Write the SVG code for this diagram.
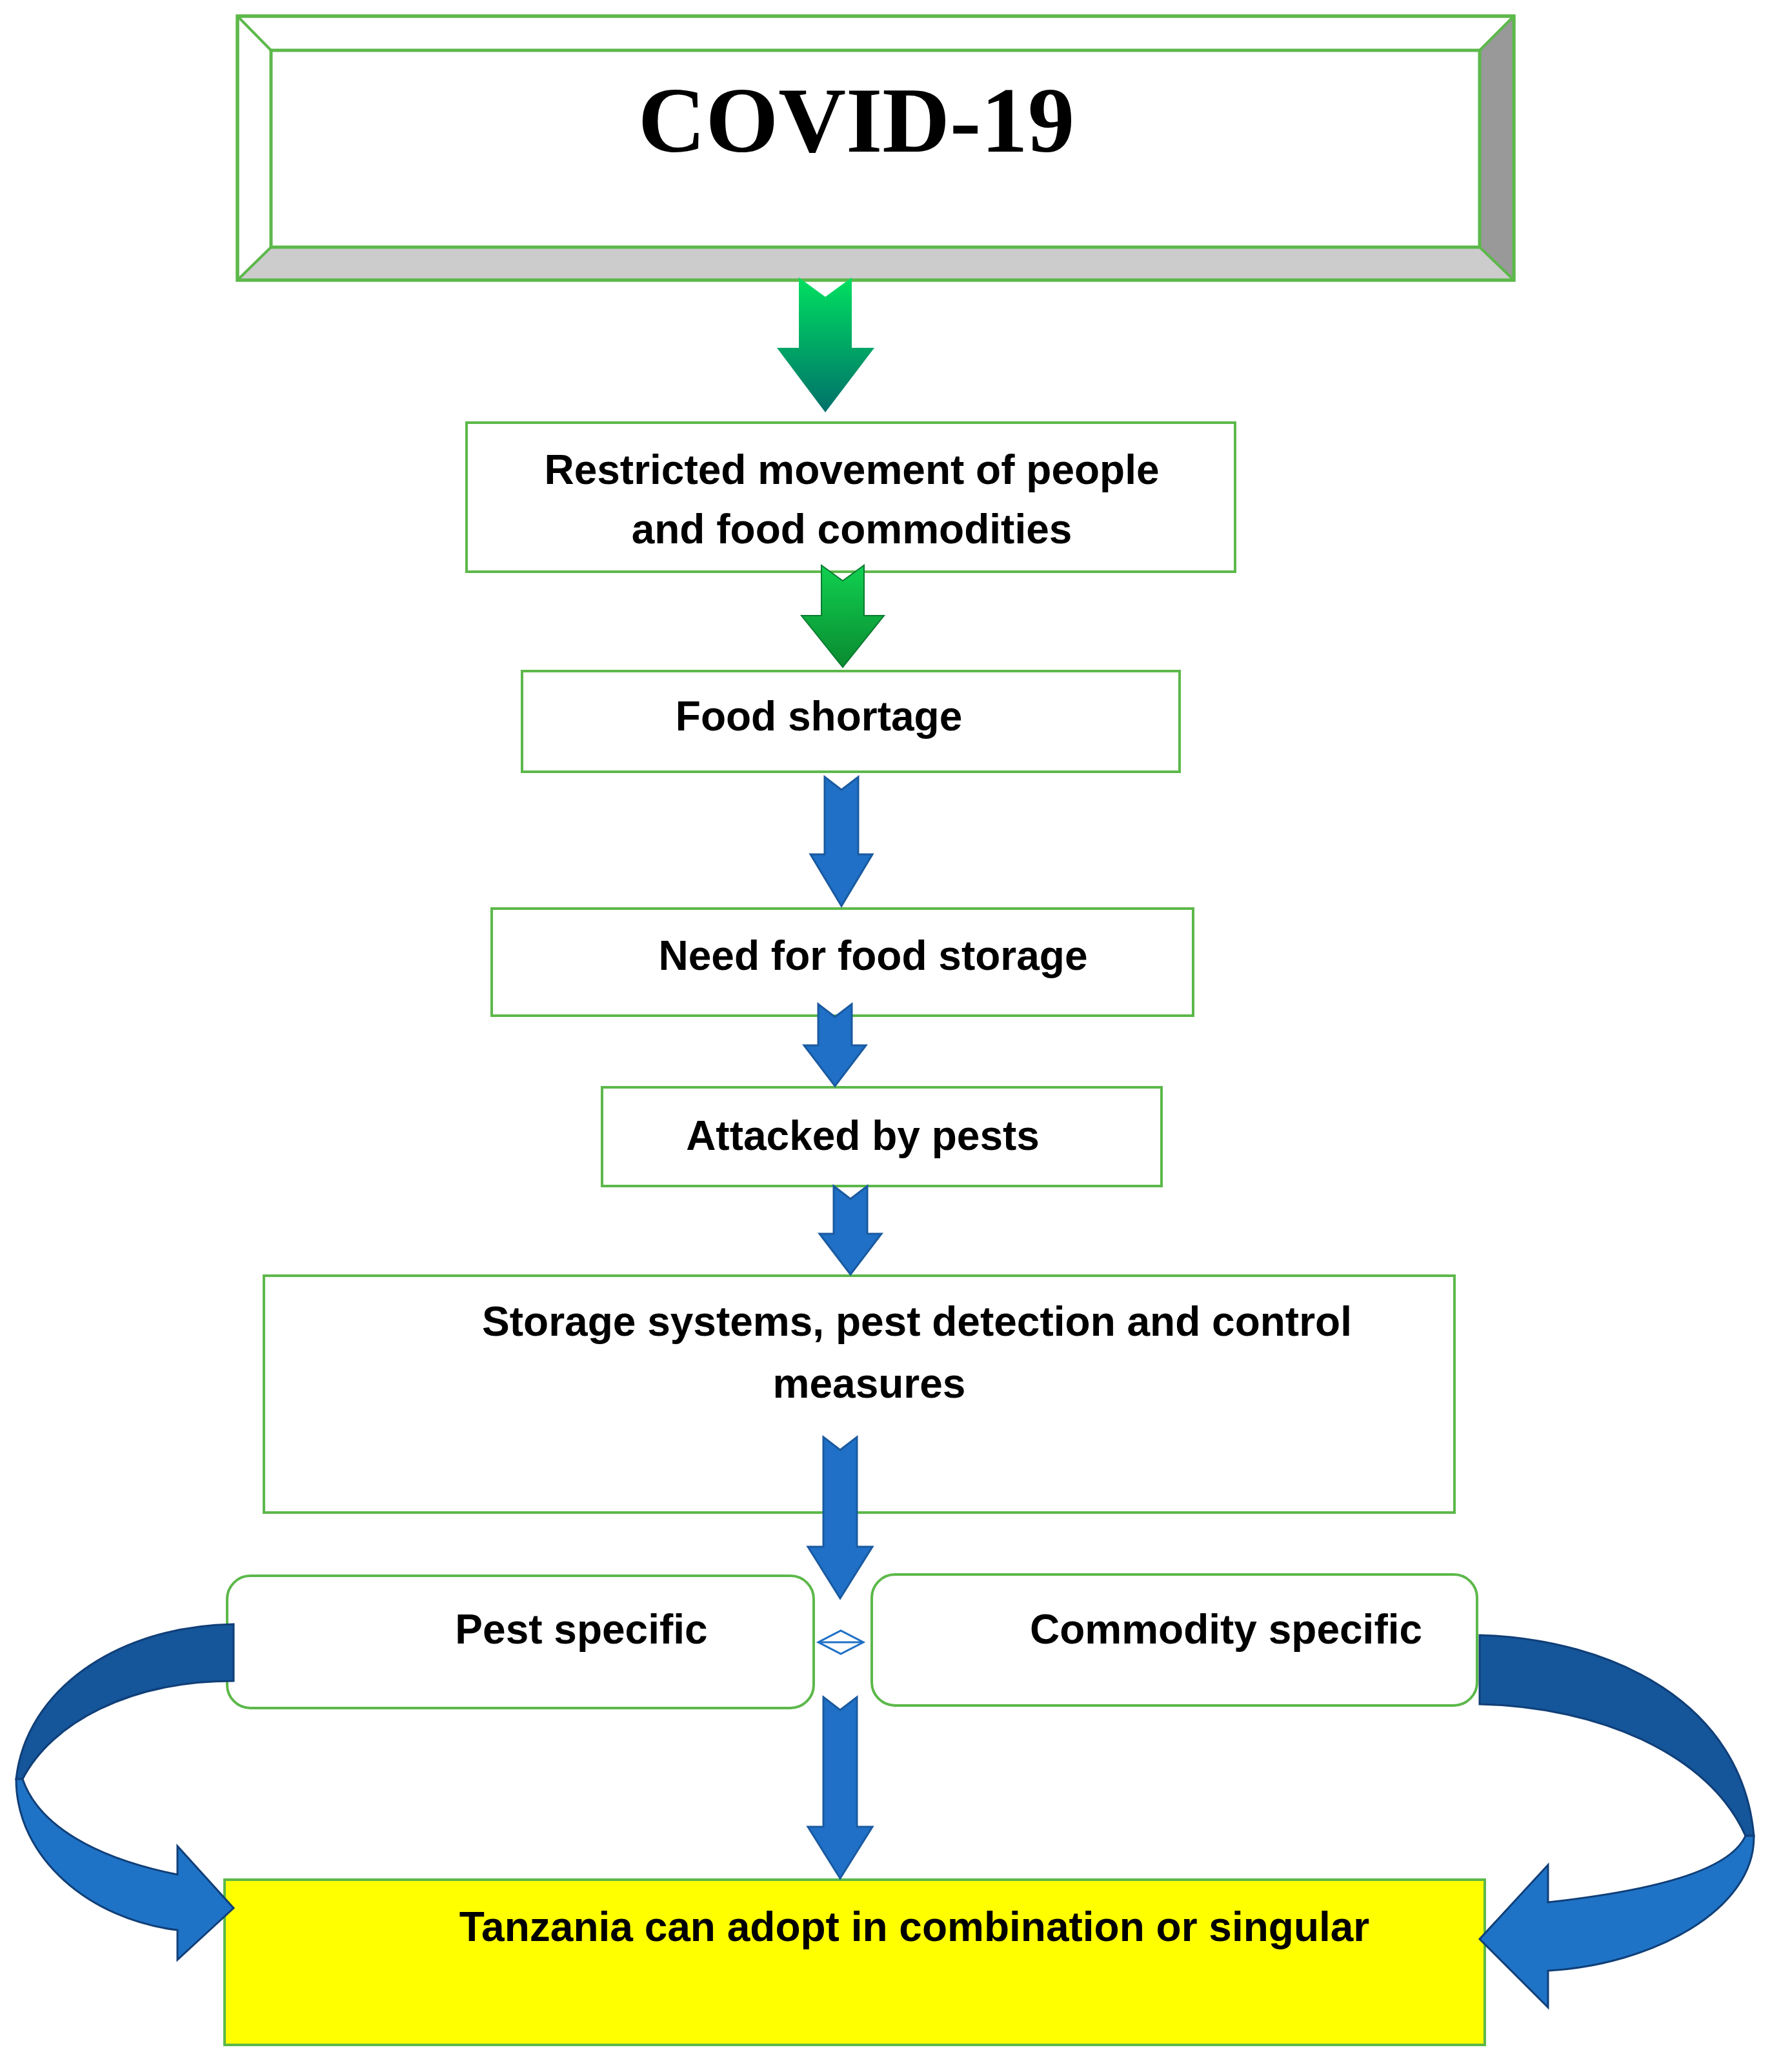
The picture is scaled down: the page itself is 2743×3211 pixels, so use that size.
<svg xmlns="http://www.w3.org/2000/svg" width="2743" height="3211" viewBox="0 0 2743 3211">
<defs>
<linearGradient id="g" x1="0" y1="0" x2="0" y2="1"><stop offset="0" stop-color="#00e060"/><stop offset="1" stop-color="#00706a"/></linearGradient>
<linearGradient id="g2" x1="0" y1="0" x2="0" y2="1"><stop offset="0" stop-color="#10d050"/><stop offset="1" stop-color="#0a8a30"/></linearGradient>
<style>
.box{fill:#fff;stroke:#5cb84a;stroke-width:4}
.t{font-family:"Liberation Sans",Arial,sans-serif;font-weight:bold;font-size:64px;fill:#000;text-anchor:middle}
.ba{fill:#1f70c6;stroke:#1a5aa0;stroke-width:3}
</style>
</defs>
<g id="covid">
<rect x="368" y="25" width="1978" height="409" fill="#fff" stroke="#5cb84a" stroke-width="5"/>
<polygon points="2293,78 2346,25 2346,434 2293,383" fill="#999"/>
<polygon points="420,383 2293,383 2346,434 368,434" fill="#ccc"/>
<rect x="368" y="25" width="1978" height="409" fill="none" stroke="#5cb84a" stroke-width="5"/>
<rect x="420" y="78" width="1873" height="305" fill="#fff" stroke="#5cb84a" stroke-width="5"/>
<line x1="368" y1="25" x2="420" y2="78" stroke="#5cb84a" stroke-width="4"/>
<line x1="2346" y1="25" x2="2293" y2="78" stroke="#5cb84a" stroke-width="4"/>
<line x1="368" y1="434" x2="420" y2="383" stroke="#5cb84a" stroke-width="4"/>
<line x1="2346" y1="434" x2="2293" y2="383" stroke="#5cb84a" stroke-width="4"/>
<text x="1327" y="235" font-family="Liberation Serif,serif" font-weight="bold" font-size="145" text-anchor="middle">COVID-19</text>
</g>
<g id="restricted"><rect class="box" x="723" y="655" width="1191" height="231"/>
<text class="t" x="1320" y="750">Restricted movement of people</text>
<text class="t" x="1320" y="842">and food commodities</text></g>
<g id="shortage"><rect class="box" x="809" y="1040" width="1019" height="156"/><text class="t" x="1269" y="1132">Food shortage</text></g>
<g id="need"><rect class="box" x="762" y="1408" width="1087" height="166"/><text class="t" x="1353" y="1503">Need for food storage</text></g>
<g id="pests"><rect class="box" x="933" y="1685" width="867" height="153"/><text class="t" x="1337" y="1782">Attacked by pests</text></g>
<g id="storage"><rect class="box" x="409" y="1977" width="1845" height="367"/>
<text class="t" x="1421" y="2070">Storage systems, pest detection and control</text>
<text class="t" x="1347" y="2166">measures</text></g>
<g id="pest"><rect class="box" x="352" y="2442" width="909" height="205" rx="36"/><text class="t" x="901" y="2547">Pest specific</text></g>
<g id="commodity"><rect class="box" x="1351" y="2440" width="938" height="203" rx="36"/><text class="t" x="1900" y="2547">Commodity specific</text></g>
<g id="tanzania"><rect x="348" y="2913" width="1953" height="256" fill="#ffff00" stroke="#5cb84a" stroke-width="4"/><text class="t" x="1417" y="3008">Tanzania can adopt in combination or singular</text></g>
<g id="connectors">
<polygon points="1238,430 1279,460 1320,430 1320,539 1355,539 1279,639 1204,539 1238,539" fill="url(#g)"/>
<polygon points="1273,876 1306,900 1339,876 1339,954 1370,954 1306,1034 1242,954 1273,954" fill="url(#g2)" stroke="#0a7a30" stroke-width="2"/>
<polygon class="ba" points="1278,1204 1304,1224 1330,1204 1330,1324 1352,1324 1304,1404 1256,1324 1278,1324"/>
<polygon class="ba" points="1268,1556 1294,1576 1320,1556 1320,1620 1342,1620 1294,1683 1246,1620 1268,1620"/>
<polygon class="ba" points="1292,1838 1318,1858 1344,1838 1344,1912 1366,1912 1318,1975 1270,1912 1292,1912"/>
<polygon class="ba" points="1276,2227 1302,2247 1328,2227 1328,2397 1352,2397 1302,2477 1252,2397 1276,2397"/>
<polygon class="ba" points="1276,2630 1302,2650 1328,2630 1328,2831 1352,2831 1302,2911 1252,2831 1276,2831"/>
<polygon points="1268,2545 1303,2527 1338,2545 1303,2563" fill="none" stroke="#1f70c6" stroke-width="3"/>
<line x1="1268" y1="2545" x2="1338" y2="2545" stroke="#1f70c6" stroke-width="3"/>
<path d="M362,2517 C180,2520 40,2620 25,2757 L35,2757 C80,2670 200,2605 362,2605 Z" fill="#15559a" stroke="#103f78" stroke-width="3"/>
<path d="M25,2757 C25,2880 140,2975 275,2991 L275,3037 L362,2957 L275,2861 L275,2905 C150,2880 60,2830 35,2757 Z" fill="#1f73c6" stroke="#103f78" stroke-width="3"/>
<path d="M2293,2534 C2500,2540 2700,2640 2718,2845 L2705,2845 C2650,2720 2480,2645 2293,2641 Z" fill="#15559a" stroke="#103f78" stroke-width="3"/>
<path d="M2718,2845 C2720,2960 2560,3045 2399,3054 L2399,3111 L2293,3005 L2399,2890 L2399,2948 C2560,2930 2680,2900 2705,2845 Z" fill="#1f73c6" stroke="#103f78" stroke-width="3"/>
</g>
</svg>
